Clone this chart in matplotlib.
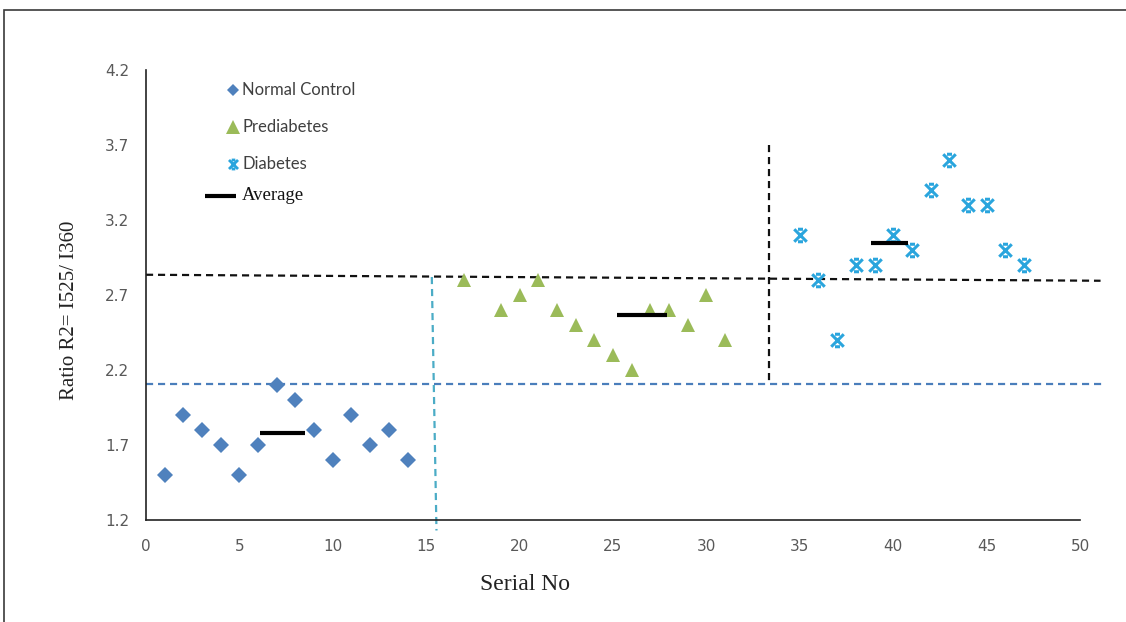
import matplotlib
matplotlib.use("Agg")
import matplotlib.pyplot as plt
from matplotlib.path import Path
from matplotlib.patches import Rectangle

# Serial numbers and measured ratios per group
normal_x = [1, 2, 3, 4, 5, 6, 7, 8, 9, 10, 11, 12, 13, 14]
normal_y = [1.5, 1.9, 1.8, 1.7, 1.5, 1.7, 2.1, 2.0, 1.8, 1.6, 1.9, 1.7, 1.8, 1.6]

pre_x = [17, 19, 20, 21, 22, 23, 24, 25, 26, 27, 28, 29, 30, 31]
pre_y = [2.8, 2.6, 2.7, 2.8, 2.6, 2.5, 2.4, 2.3, 2.2, 2.6, 2.6, 2.5, 2.7, 2.4]

dia_x = [35, 36, 37, 38, 39, 40, 41, 42, 43, 44, 45, 46, 47]
dia_y = [3.1, 2.8, 2.4, 2.9, 2.9, 3.1, 3.0, 3.4, 3.6, 3.3, 3.3, 3.0, 2.9]

# Group averages (value, x-extent of the bar)
avg_values = [1.78, 2.57, 3.05]
avg_spans = [(6.1, 8.5), (25.2, 27.9), (38.8, 40.8)]

# Cut-off lines
cut_black_h = ((0, 51.1), (2.835, 2.795))
cut_blue_h = ((0, 51.3), (2.11, 2.11))
cut_teal_v = ((15.3, 15.55), (2.82, 1.13))
cut_black_v = ((33.37, 33.37), (3.7, 2.11))

x_ticks = [0, 5, 10, 15, 20, 25, 30, 35, 40, 45, 50]
y_ticks = [1.2, 1.7, 2.2, 2.7, 3.2, 3.7, 4.2]

W, H = 1126, 622
fig = plt.figure(figsize=(W / 100, H / 100), dpi=100)
fig.patch.set_facecolor("white")


def fx(px):
    return px / W


def fy(py):
    return 1 - py / H


# outer frame
fig.patches.append(Rectangle((fx(4), -0.05), 1.1, fy(10) + 0.05, transform=fig.transFigure,
                             fill=False, edgecolor="#3a3a3a", linewidth=1.2))

ax = fig.add_axes([fx(146), fy(520), fx(1080) - fx(146), fy(70) - fy(520)])
ax.set_xlim(0, 50)
ax.set_ylim(1.2, 4.2)
for s in ["top", "right"]:
    ax.spines[s].set_visible(False)
for s in ["left", "bottom"]:
    ax.spines[s].set_color("#222222")
    ax.spines[s].set_linewidth(1.2)

tick_font = ["Liberation Sans Narrow", "DejaVu Sans"]
ax.set_xticks(x_ticks)
ax.set_yticks(y_ticks)
ax.set_xticklabels([str(v) for v in x_ticks], family=tick_font, fontsize=11, color="#595959")
ax.set_yticklabels([f"{v:.1f}" for v in y_ticks], family=tick_font, fontsize=11, color="#595959")
ax.tick_params(axis="both", length=0)
ax.tick_params(axis="x", pad=14)
ax.tick_params(axis="y", pad=12)

blue = "#4F81BD"
green = "#9BBB59"
cyan = "#2AA5DD"
teal = "#4BACC6"

dash = dict(linestyle=(0, (3.2, 2.2)), linewidth=1.6, clip_on=False, zorder=2)
ax.plot(*cut_black_h, color="#111111", **dash)
ax.plot(*cut_blue_h, color="#4A7EBB", **dash)
ax.plot(*cut_teal_v, color=teal, **dash)
ax.plot(*cut_black_v, color="#111111", **dash)

# X marker with short caps for the diabetes group
cross = Path([(-1, -1), (1, 1), (-1, 1), (1, -1), (-0.4, 1), (0.4, 1), (-0.4, -1), (0.4, -1)],
             [Path.MOVETO, Path.LINETO, Path.MOVETO, Path.LINETO,
              Path.MOVETO, Path.LINETO, Path.MOVETO, Path.LINETO])

ax.plot(normal_x, normal_y, linestyle="none", marker="D", markersize=8.5,
        color=blue, markeredgewidth=0, zorder=3, clip_on=False)
ax.plot(pre_x, pre_y, linestyle="none", marker="^", markersize=10.5,
        color=green, markeredgewidth=0, zorder=3, clip_on=False)
ax.plot(dia_x, dia_y, linestyle="none", marker=cross, markersize=9,
        markerfacecolor="none", markeredgecolor=cyan, markeredgewidth=2.2,
        zorder=3, clip_on=False)

for v, (x0, x1) in zip(avg_values, avg_spans):
    ax.plot([x0, x1], [v, v], color="black", linewidth=3, solid_capstyle="butt", zorder=4)

# legend
leg_font = ["Lato", "DejaVu Sans"]
items = [("Normal Control", 90, dict(marker="D", markersize=6.5, color=blue, markeredgewidth=0)),
         ("Prediabetes", 127, dict(marker="^", markersize=9.5, color=green, markeredgewidth=0)),
         ("Diabetes", 164, dict(marker=cross, markersize=6.5, markerfacecolor="none",
                                markeredgecolor=cyan, markeredgewidth=2.0))]
for label, py, style in items:
    fig.lines.append(plt.Line2D([fx(233)], [fy(py)], transform=fig.transFigure, linestyle="none", **style))
    fig.text(fx(242), fy(py), label, family=leg_font, fontsize=12, color="#404040",
             va="center", ha="left")
fig.lines.append(plt.Line2D([fx(205), fx(236)], [fy(196), fy(196)], transform=fig.transFigure,
                            color="black", linewidth=3, solid_capstyle="butt"))
fig.text(fx(242), fy(195), "Average", family="Liberation Serif", fontsize=13.5, color="#111111",
         va="center", ha="left")

# axis titles
fig.text(fx(525), fy(585), "Serial No", family="Liberation Serif", fontsize=17, color="#222222",
         ha="center", va="center")
fig.text(fx(70), fy(310), "Ratio R2= I525/ I360", family="Liberation Serif", fontsize=15,
         color="#222222", ha="center", va="center", rotation=90)

fig.savefig("out.png", dpi=100)
